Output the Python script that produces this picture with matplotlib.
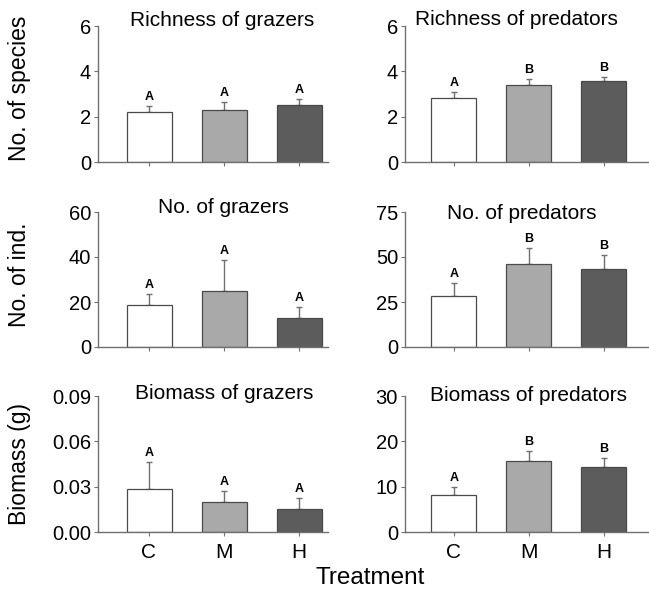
import numpy as np
import matplotlib.pyplot as plt

plt.rcParams['font.family'] = ['Liberation Sans', 'DejaVu Sans']

treatments = ["C", "M", "H"]
bar_colors = ["#ffffff", "#a9a9a9", "#5c5c5c"]

# panel data: mean, upper error, significance letters
rich_grazers = [2.20, 2.31, 2.50]
rich_grazers_err = [0.28, 0.32, 0.27]
rich_grazers_sig = ["A", "A", "A"]

rich_predators = [2.84, 3.40, 3.59]
rich_predators_err = [0.24, 0.25, 0.16]
rich_predators_sig = ["A", "B", "B"]

n_grazers = [18.7, 24.9, 12.9]
n_grazers_err = [4.9, 13.8, 4.7]
n_grazers_sig = ["A", "A", "A"]

n_predators = [28.5, 46.1, 43.6]
n_predators_err = [6.8, 9.0, 7.5]
n_predators_sig = ["A", "B", "B"]

bio_grazers = [0.0287, 0.0196, 0.0154]
bio_grazers_err = [0.0178, 0.0075, 0.0071]
bio_grazers_sig = ["A", "A", "A"]

bio_predators = [8.1, 15.7, 14.4]
bio_predators_err = [1.9, 2.2, 2.0]
bio_predators_sig = ["A", "B", "B"]

panels = [
    # title, values, errors, letters, ymax, yticks, title x, title y, col, row
    ("Richness of grazers", rich_grazers, rich_grazers_err, rich_grazers_sig, 6, [0, 2, 4, 6], 0.54, 1.0, 0, 0),
    ("Richness of predators", rich_predators, rich_predators_err, rich_predators_sig, 6, [0, 2, 4, 6], 0.46, 1.01, 1, 0),
    ("No. of grazers", n_grazers, n_grazers_err, n_grazers_sig, 60, [0, 20, 40, 60], 0.545, 0.995, 0, 1),
    ("No. of predators", n_predators, n_predators_err, n_predators_sig, 75, [0, 25, 50, 75], 0.48, 0.95, 1, 1),
    ("Biomass of grazers", bio_grazers, bio_grazers_err, bio_grazers_sig, 0.09, [0, 0.03, 0.06, 0.09], 0.548, 0.978, 0, 2),
    ("Biomass of predators", bio_predators, bio_predators_err, bio_predators_sig, 30, [0, 10, 20, 30], 0.508, 0.965, 1, 2),
]

W, H = 649, 602
fig = plt.figure(figsize=(W / 100, H / 100), dpi=100)

col_left = [98, 405]
col_right = [328, 648]
row_bottom = [162, 347, 532]
row_top = [26, 212, 396]
first_center = [149, 453.7]
spacing = 75.0
edge = "#707070"

x = np.arange(3)
for title, vals, errs, sig, ymax, yticks, tx, ty, col, row in panels:
    l, r = col_left[col], col_right[col]
    b, t = row_bottom[row], row_top[row]
    ax = fig.add_axes([l / W, 1 - b / H, (r - l) / W, (b - t) / H])
    ax.bar(x, vals, width=0.6, color=bar_colors, edgecolor="#4a4a4a", linewidth=0.9, zorder=2)
    ax.errorbar(x, vals, yerr=[np.zeros(3), errs], fmt="none", ecolor=edge,
                elinewidth=1.0, capsize=2.5, capthick=1.0, zorder=1)
    for xi, v, e, s in zip(x, vals, errs, sig):
        ax.text(xi, v + e + ymax * 0.022, s, ha="center", va="bottom",
                fontsize=9, fontweight="bold")
    x0 = (l - first_center[col]) / spacing
    x1 = (r - first_center[col]) / spacing
    ax.set_xlim(x0, x1)
    ax.set_ylim(0, ymax)
    ax.set_yticks(yticks)
    if ymax < 1:
        ax.set_yticklabels(["%.2f" % v for v in yticks])
    ax.set_xticks(x)
    if row == 2:
        ax.set_xticklabels(treatments, fontsize=15)
    else:
        ax.set_xticklabels([])
    ax.tick_params(axis="y", labelsize=14.5, length=3, color=edge, pad=2)
    ax.tick_params(axis="x", length=3, color=edge, pad=5)
    for sp in ["top", "right"]:
        ax.spines[sp].set_visible(False)
    for sp in ["left", "bottom"]:
        ax.spines[sp].set_color(edge)
        ax.spines[sp].set_linewidth(1.0)
    ax.text(tx, ty, title, transform=ax.transAxes, ha="center", va="baseline", fontsize=15)

# shared labels
fig.text(20 / W, 1 - 88 / H, "No. of species", rotation=90, ha="center", va="center", fontsize=16.5)
fig.text(20 / W, 1 - 275 / H, "No. of ind.", rotation=90, ha="center", va="center", fontsize=16.5)
fig.text(20 / W, 1 - 464 / H, "Biomass (g)", rotation=90, ha="center", va="center", fontsize=16.5)
fig.text(370 / W, 1 - 578 / H, "Treatment", ha="center", va="center", fontsize=17.5)

fig.savefig("out.png", dpi=100)
